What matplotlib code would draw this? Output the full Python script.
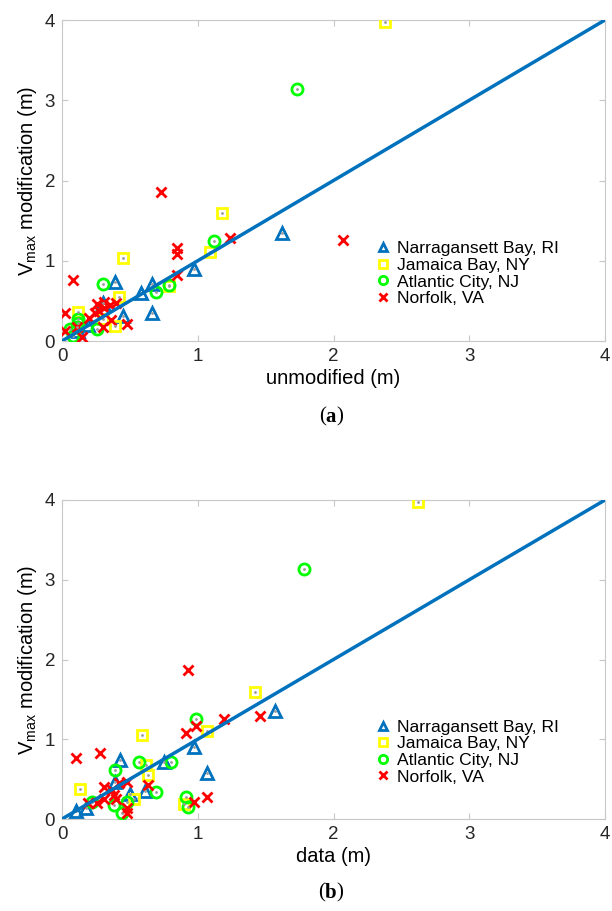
import matplotlib
matplotlib.use("Agg")
import matplotlib.pyplot as plt
import numpy as np

plt.rcParams['font.family'] = ['Liberation Sans', 'DejaVu Sans']
plt.rcParams['mathtext.fontset'] = 'custom'
plt.rcParams['mathtext.rm'] = 'Liberation Sans'
plt.rcParams['mathtext.it'] = 'Liberation Sans'

sites = ["Narragansett Bay, RI", "Jamaica Bay, NY", "Atlantic City, NJ", "Norfolk, VA"]

# Panel (a): unmodified vs modification
a_nb_x = [1.62, 0.97, 0.66, 0.58, 0.39, 0.66, 0.45, 0.30, 0.19, 0.12]
a_nb_y = [1.35, 0.90, 0.71, 0.60, 0.74, 0.35, 0.31, 0.47, 0.20, 0.12]
a_jb_x = [2.38, 1.18, 1.09, 0.79, 0.45, 0.42, 0.39, 0.12, 0.30]
a_jb_y = [3.97, 1.60, 1.11, 0.68, 1.03, 0.55, 0.19, 0.36, 0.27]
a_ac_x = [1.73, 1.12, 0.79, 0.69, 0.30, 0.12, 0.12, 0.11, 0.26, 0.08, 0.06]
a_ac_y = [3.14, 1.25, 0.70, 0.61, 0.71, 0.27, 0.22, 0.17, 0.15, 0.06, 0.15]
a_nf_x = [0.73, 2.07, 1.24, 0.85, 0.85, 0.85, 0.08, 0.02, 0.02, 0.26, 0.31, 0.35,
          0.31, 0.24, 0.20, 0.11, 0.15, 0.30, 0.36, 0.48, 0.27, 0.40]
a_nf_y = [1.86, 1.26, 1.28, 1.16, 1.08, 0.82, 0.76, 0.35, 0.13, 0.46, 0.41, 0.45,
          0.49, 0.35, 0.29, 0.18, 0.05, 0.18, 0.26, 0.21, 0.38, 0.47]

# Panel (b): data vs modification
b_nb_x = [1.57, 0.97, 1.07, 0.75, 0.61, 0.50, 0.43, 0.39, 0.18, 0.10]
b_nb_y = [1.35, 0.90, 0.58, 0.71, 0.35, 0.31, 0.74, 0.46, 0.14, 0.10]
b_jb_x = [2.62, 1.42, 1.07, 0.59, 0.62, 0.63, 0.13, 0.53, 0.90]
b_jb_y = [3.97, 1.59, 1.10, 1.05, 0.68, 0.55, 0.37, 0.25, 0.19]
b_ac_x = [1.78, 0.99, 0.57, 0.80, 0.39, 0.69, 0.48, 0.38, 0.44, 0.22, 0.91, 0.93]
b_ac_y = [3.14, 1.26, 0.71, 0.71, 0.61, 0.34, 0.21, 0.17, 0.07, 0.21, 0.27, 0.15]
b_nf_x = [0.93, 1.46, 1.19, 0.99, 0.91, 0.10, 0.28, 0.48, 0.42, 0.31, 0.63, 0.37,
          0.40, 0.31, 0.26, 0.19, 0.48, 0.48, 0.97, 1.07, 0.38]
b_nf_y = [1.87, 1.29, 1.26, 1.17, 1.08, 0.77, 0.83, 0.46, 0.45, 0.40, 0.43, 0.36,
          0.25, 0.25, 0.20, 0.20, 0.14, 0.07, 0.21, 0.28, 0.30]

ticks = [0, 1, 2, 3, 4]
xlabels = ["unmodified (m)", "data (m)"]
panel_tags = ["a", "b"]

line_c = '#0072BD'
styles = [
    dict(marker='^', color='#0072BD', ms=8, mew=2.0),
    dict(marker='s', color='#FFFF00', ms=7, mew=2.0),
    dict(marker='o', color='#00FF00', ms=8, mew=2.0),
    dict(marker='x', color='#FF0000', ms=7, mew=2.0),
]

W, H = 612, 911
fig = plt.figure(figsize=(W / 100, H / 100), dpi=100)
left, right = 62, 605
ax_a = fig.add_axes([left / W, 1 - 341 / H, (right - left) / W, 321 / H])
ax_b = fig.add_axes([left / W, 1 - 819 / H, (right - left) / W, 319 / H])

panels = [
    (ax_a, [(a_nb_x, a_nb_y), (a_jb_x, a_jb_y), (a_ac_x, a_ac_y), (a_nf_x, a_nf_y)]),
    (ax_b, [(b_nb_x, b_nb_y), (b_jb_x, b_jb_y), (b_ac_x, b_ac_y), (b_nf_x, b_nf_y)]),
]

for i, (ax, series) in enumerate(panels):
    handles = []
    for (x, y), st, name in zip(series, styles, sites):
        h, = ax.plot(x, y, linestyle='none', marker=st['marker'], ms=st['ms'],
                     mfc='none', mec=st['color'], mew=st['mew'], label=name, zorder=3)
        if st['marker'] != 'x':
            ax.plot(x, y, linestyle='none', marker='.', ms=2, color='#9a9a9a', zorder=4)
        handles.append(h)
    ax.plot([0, 4], [0, 4], color=line_c, lw=2.5, zorder=5)
    ax.set_xlim(0, 4)
    ax.set_ylim(0, 4)
    ax.set_xticks(ticks)
    ax.set_yticks(ticks)
    ax.set_xticklabels([str(t) for t in ticks])
    ax.set_yticklabels([str(t) for t in ticks])
    ax.tick_params(direction='in', length=4, width=0.8, color='#c8c8c8',
                   labelsize=13.5, labelcolor='#262626', top=True, right=True, pad=5)
    for sp in ax.spines.values():
        sp.set_color('#c8c8c8')
        sp.set_linewidth(0.8)
    ax.set_xlabel(xlabels[i], fontsize=14.5, labelpad=3)
    ax.set_ylabel(r'V$_{\mathrm{max}}$ modification (m)', fontsize=14.5, labelpad=4)
    ax.legend(handles=handles, loc='center left', bbox_to_anchor=(0.565, 0.21),
              frameon=False, fontsize=12.6, handlelength=0.6, handletextpad=0.5,
              labelspacing=0.08, borderpad=0, markerscale=0.75)

# panel tags "(a)" and "(b)" with bold letter
renderer = fig.canvas.get_renderer()
for tag, yc in zip(panel_tags, [417, 893]):
    parts = [('(', 'normal'), (tag, 'bold'), (')', 'normal')]
    texts = []
    for s, wgt in parts:
        t = fig.text(0, 1 - yc / H, s, ha='left', va='center', fontsize=15,
                     family='Liberation Serif', fontweight=wgt)
        texts.append(t)
    widths = [t.get_window_extent(renderer).width for t in texts]
    total = sum(widths)
    xcur = 331 - total / 2
    for t, w in zip(texts, widths):
        t.set_x(xcur / W)
        xcur += w

fig.savefig('out.png', dpi=100)
